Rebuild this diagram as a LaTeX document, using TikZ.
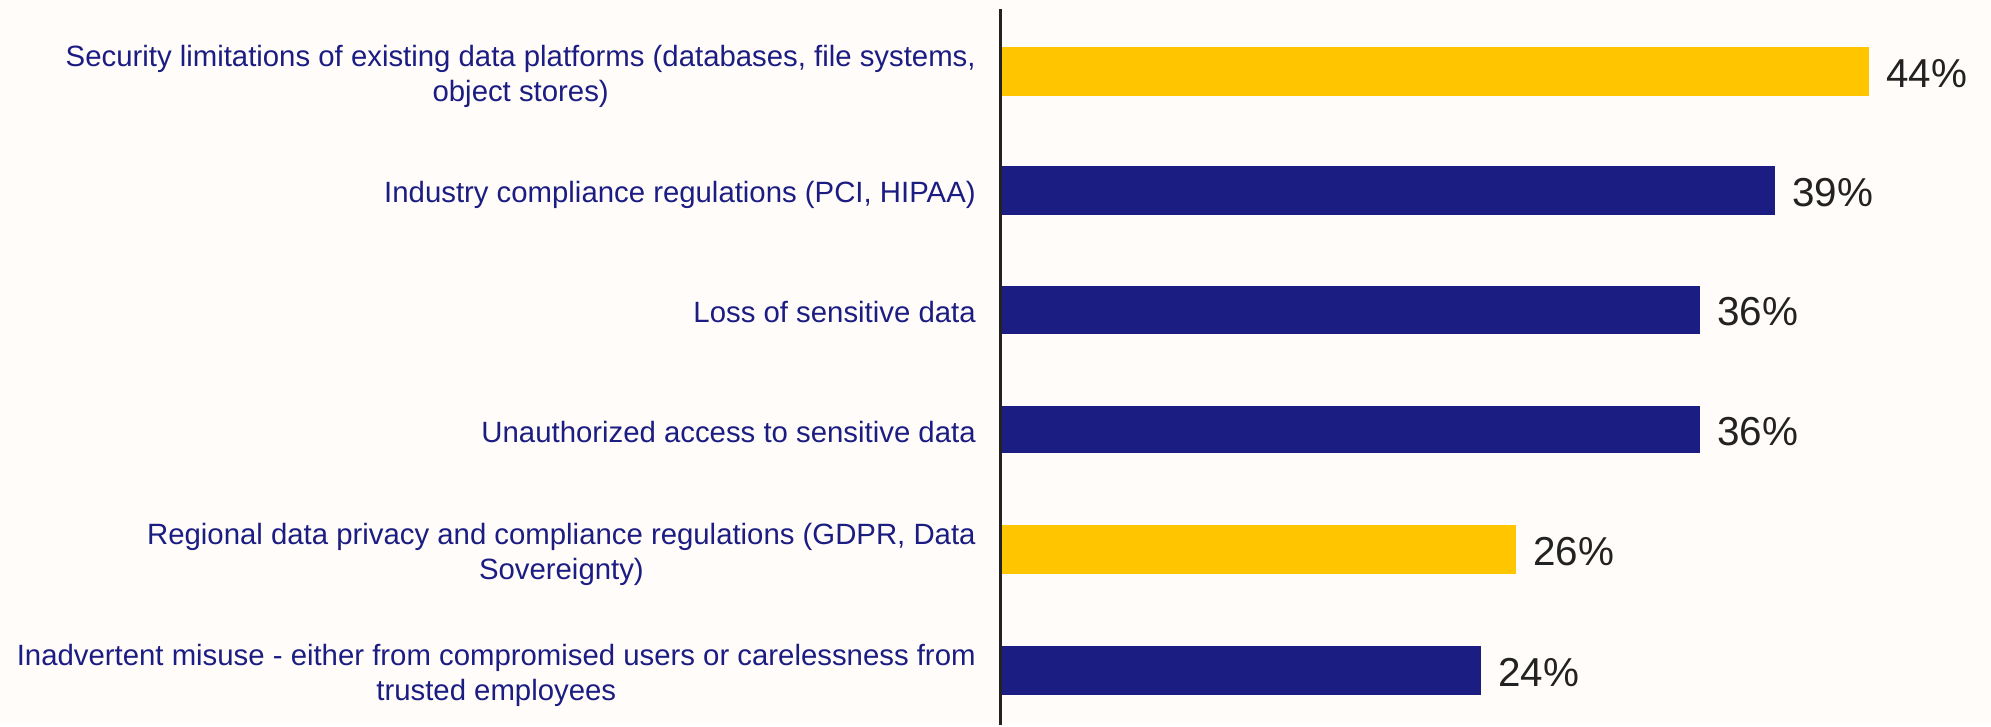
\documentclass[tikz,border=0pt]{standalone}
\usepackage{fontspec}
\setmainfont{Liberation Sans}
\definecolor{navy}{RGB}{27,29,130}
\definecolor{gold}{RGB}{255,198,0}
\definecolor{paper}{RGB}{255,252,249}
\definecolor{ink}{RGB}{34,34,34}
\begin{document}
\begin{tikzpicture}[x=0.02cm,y=-0.02cm,line join=round,
	lab/.style={anchor=east,align=center,inner sep=0pt,text=navy,font=\fontsize{16.7}{20.3}\selectfont},
	val/.style={anchor=west,inner sep=0pt,text=ink,font=\fontsize{23}{27}\selectfont}]
	\fill[paper] (0,0) rectangle (1991,725);
	% bars
	\fill[gold] (1001,47) rectangle (1869,96);
	\fill[navy] (1001,166) rectangle (1775,215);
	\fill[navy] (1001,286) rectangle (1700,334);
	\fill[navy] (1001,406) rectangle (1700,453);
	\fill[gold] (1001,525) rectangle (1516,574);
	\fill[navy] (1001,646) rectangle (1481,695);
	%\draw[dashed] (1001,0)--(1991,0);
	\draw[ink,line width=1.7pt] (1000,9)--(1000,725);
	% values
	\node (v1) at (1886,73.5) [val] {44\%};
	\node (v2) at (1792,192.5) [val] {39\%};
	\node (v3) at (1717,312) [val] {36\%};
	\node (v4) at (1717,431.5) [val] {36\%};
	\node (v5) at (1533,552) [val] {26\%};
	\node (v6) at (1498,673) [val] {24\%};
	% categories
	\node (l1) at (976,76.5) [lab] {Security limitations of existing data platforms (databases, file systems,\\object stores)};
	\node (l2) at (976,194.5) [lab] {Industry compliance regulations (PCI, HIPAA)};
	\node (l3) at (976,312) [lab] {Loss of sensitive data};
	\node (l4) at (976,432) [lab] {Unauthorized access to sensitive data};
	\node (l5) at (976,554.5) [lab] {Regional data privacy and compliance regulations (GDPR, Data\\Sovereignty)};
	\node (l6) at (976,675.5) [lab] {Inadvertent misuse - either from compromised users or carelessness from\\trusted employees};
\end{tikzpicture}
\end{document}
